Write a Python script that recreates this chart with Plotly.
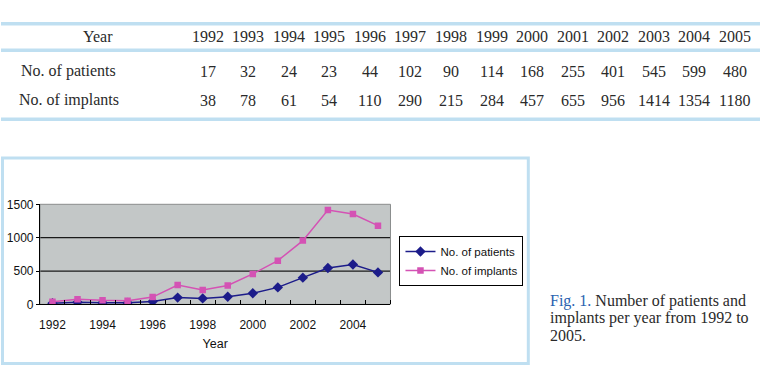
import plotly.graph_objects as go

W, H = 760, 373

years = [1992, 1993, 1994, 1995, 1996, 1997, 1998, 1999, 2000, 2001, 2002, 2003, 2004, 2005]
patients = [17, 32, 24, 23, 44, 102, 90, 114, 168, 255, 401, 545, 599, 480]
implants = [38, 78, 61, 54, 110, 290, 215, 284, 457, 655, 956, 1414, 1354, 1180]
x_tick_labels = [1992, 1994, 1996, 1998, 2000, 2002, 2004]
y_tick_values = [0, 500, 1000, 1500]
grid_values = [500, 1000]
row_labels = ["No. of patients", "No. of implants"]

def px(x):
    return x / W

def py(y):
    return 1 - y / H

fig = go.Figure()
fig.add_trace(go.Scatter(
    x=years, y=patients, name="No. of patients", mode="lines+markers",
    line=dict(color="#1c1c8a", width=1.5),
    marker=dict(symbol="diamond", size=8, color="#1c1c8a"),
))
fig.add_trace(go.Scatter(
    x=years, y=implants, name="No. of implants", mode="lines+markers",
    line=dict(color="#d452b4", width=1.5),
    marker=dict(symbol="square", size=6.5, color="#d452b4"),
))

shapes = []
# table rules
for yy in [17.5, 45, 116.5]:
    shapes.append(dict(type="line", xref="paper", yref="paper", x0=0, x1=1,
                       y0=py(yy), y1=py(yy), line=dict(color="#bfdff1", width=3.5), layer="below"))
# chart frame
shapes.append(dict(type="rect", xref="paper", yref="paper", x0=px(1.5), x1=px(528),
                   y0=py(370.5), y1=py(157), line=dict(color="#bfdff1", width=3), layer="below"))
# gridlines
for g in grid_values:
    shapes.append(dict(type="line", xref="x domain", yref="y", x0=0, x1=1, y0=g, y1=g,
                       line=dict(color="#1a1a1a", width=1.2), layer="below"))
# plot border (top/right)
shapes.append(dict(type="rect", xref="x domain", yref="y domain", x0=0, x1=1, y0=0, y1=1,
                   line=dict(color="#8a8d8d", width=1), layer="below"))

ann = []
serif = "Liberation Serif"
tcol = "#2a2a2a"
ann.append(dict(text="Year", x=px(97), y=py(31), xref="paper", yref="paper", showarrow=False,
                xanchor="center", yanchor="middle", font=dict(family=serif, size=16, color=tcol)))
for i, yr in enumerate(years):
    cx = 207 + i * 40.6
    ann.append(dict(text=str(yr), x=px(cx), y=py(31), xref="paper", yref="paper", showarrow=False,
                    xanchor="center", yanchor="middle", font=dict(family=serif, size=16, color=tcol)))
    ann.append(dict(text=str(patients[i]), x=px(cx), y=py(67), xref="paper", yref="paper", showarrow=False,
                    xanchor="center", yanchor="middle", font=dict(family=serif, size=16, color=tcol)))
    ann.append(dict(text=str(implants[i]), x=px(cx), y=py(97), xref="paper", yref="paper", showarrow=False,
                    xanchor="center", yanchor="middle", font=dict(family=serif, size=16, color=tcol)))
for lbl, yy in zip(row_labels, [67, 97]):
    ann.append(dict(text=lbl, x=px(68), y=py(yy), xref="paper", yref="paper", showarrow=False,
                    xanchor="center", yanchor="middle", font=dict(family=serif, size=16, color=tcol)))

# caption
cap = [
    ("<span style='color:#2a62b0'>Fig. 1.</span> Number of patients and", 305),
    ("implants per year from 1992 to", 323),
    ("2005.", 341),
]
for t, yy in cap:
    ann.append(dict(text=t, x=px(548), y=py(yy), xref="paper", yref="paper", showarrow=False,
                    xanchor="left", yanchor="middle", font=dict(family=serif, size=16, color=tcol)))

fig.update_layout(
    width=W, height=H,
    margin=dict(l=0, r=0, t=0, b=0),
    paper_bgcolor="white",
    plot_bgcolor="#c3c7c7",
    showlegend=True,
    legend=dict(x=px(399), y=py(238), xanchor="left", yanchor="top",
                bgcolor="white", bordercolor="black", borderwidth=1,
                font=dict(family="Liberation Sans", size=11.5, color="#111"),
                tracegroupgap=0, itemwidth=30),
    xaxis=dict(domain=[px(39), px(390)], range=[1991.5, 2005.5],
               tickmode="array", tickvals=x_tick_labels, ticks="",
               ticklabelstandoff=9,
               showgrid=False, zeroline=False,
               showline=True, linecolor="black", linewidth=1,
               tickfont=dict(family="Liberation Sans", size=12, color="#111"),
               title=dict(text="Year", font=dict(family="Liberation Sans", size=12.5, color="#111"), standoff=8),
               minor=dict(tickmode="linear", tick0=1991.5, dtick=1, ticks="inside", ticklen=4,
                          tickcolor="black", showgrid=False)),
    yaxis=dict(domain=[py(309), py(205)], range=[0, 1500],
               tickmode="array", tickvals=y_tick_values, ticks="outside", ticklen=3,
               tickcolor="black", showgrid=False, zeroline=False,
               showline=True, linecolor="black", linewidth=1,
               tickfont=dict(family="Liberation Sans", size=12, color="#111")),
    shapes=shapes,
    annotations=ann,
)

fig.write_html("out.html")
